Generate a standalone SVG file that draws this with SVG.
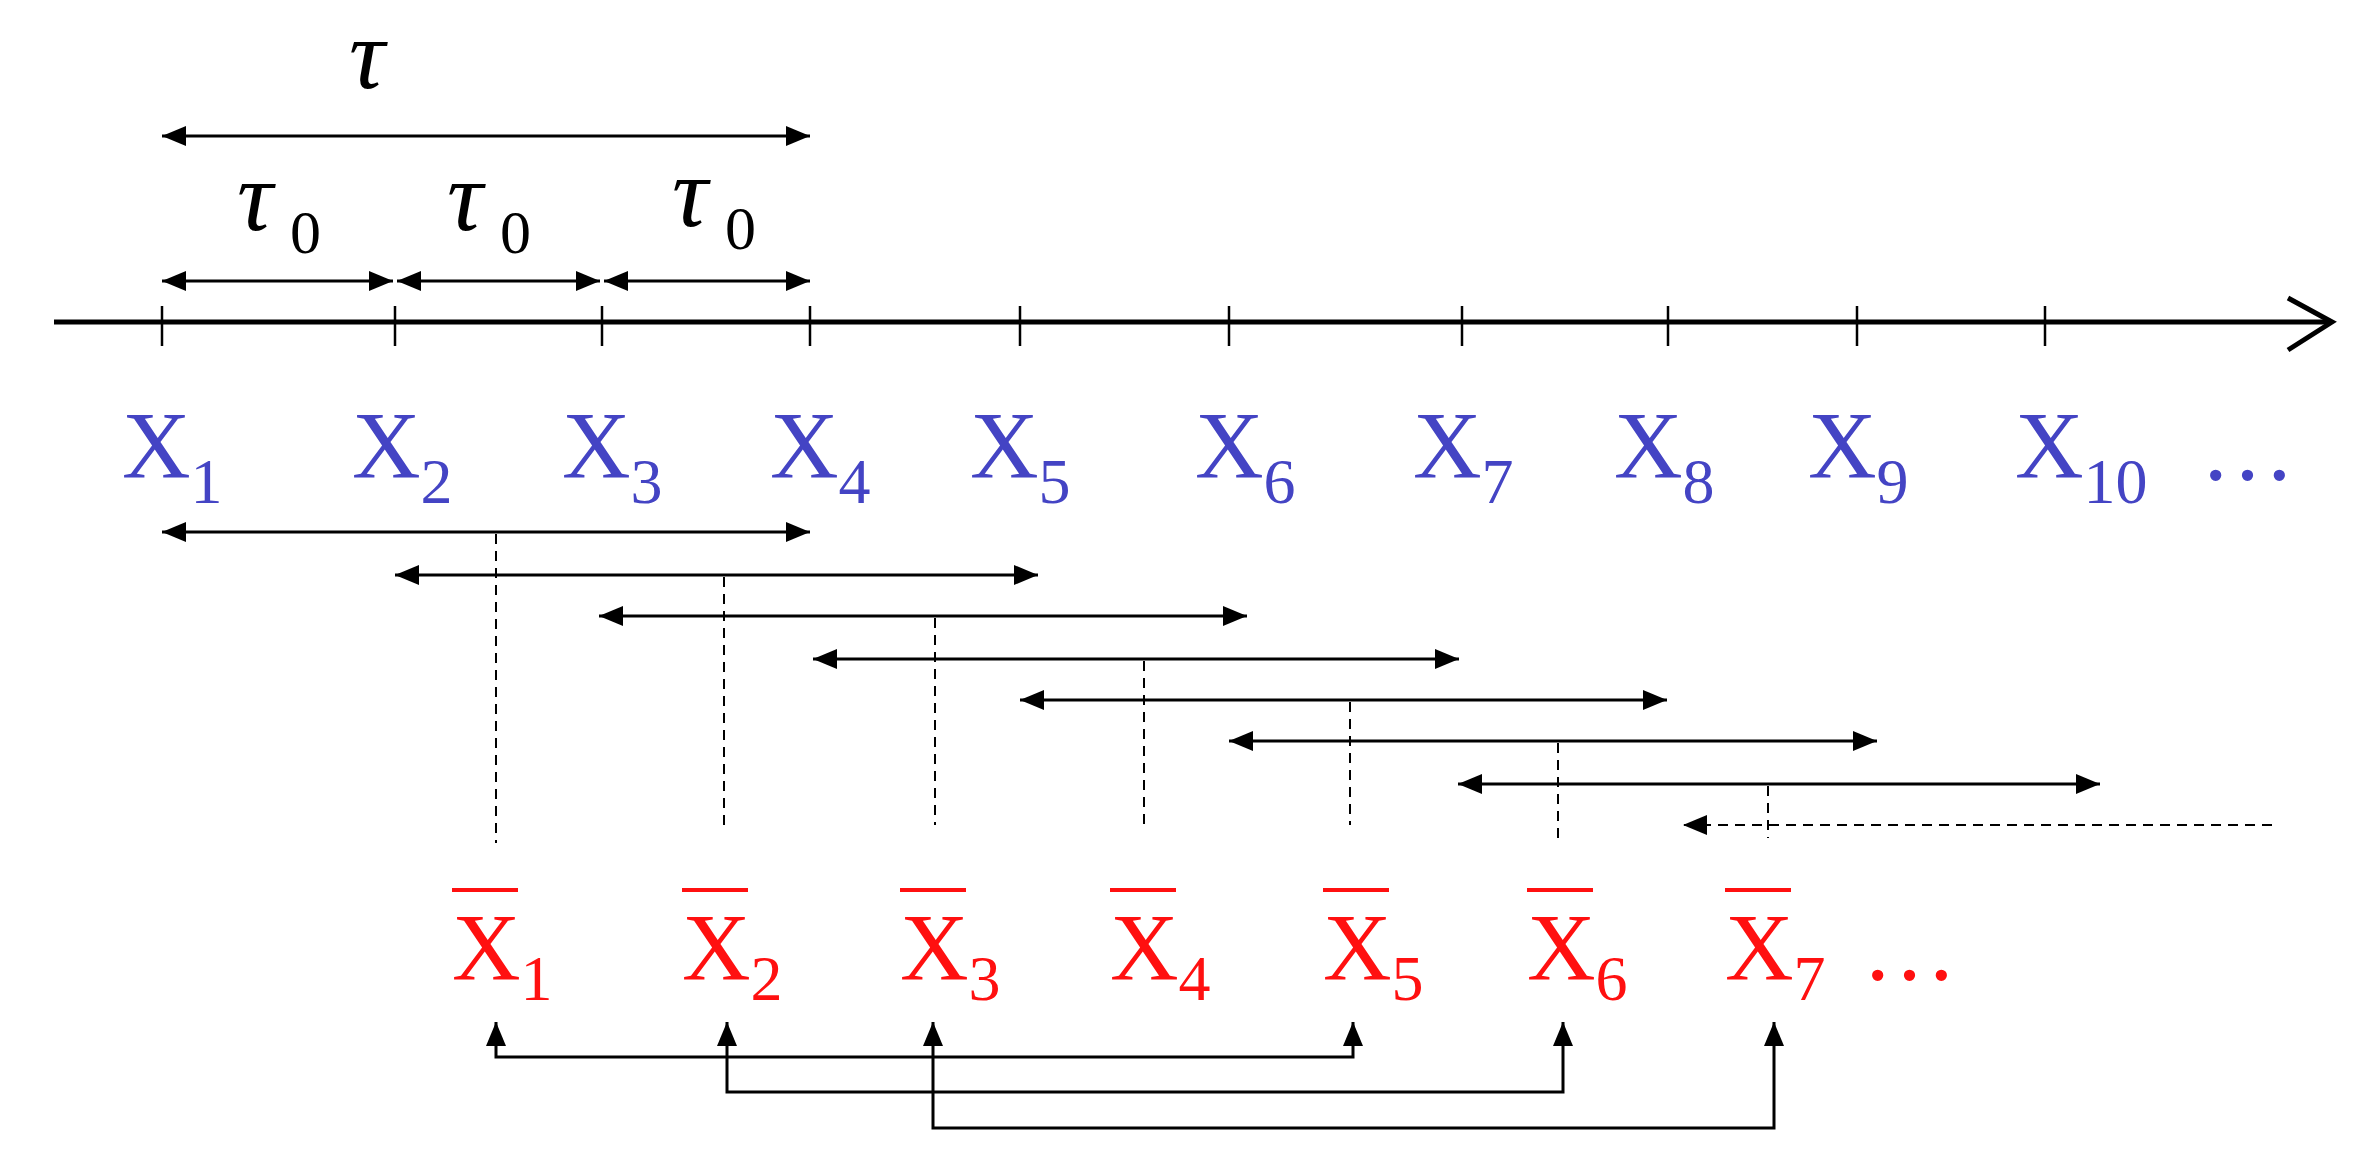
<svg xmlns="http://www.w3.org/2000/svg" width="2379" height="1174" viewBox="0 0 2379 1174">
<style>
.ln{stroke:#000;stroke-width:3;fill:none}
.dl{stroke:#000;stroke-width:2;stroke-dasharray:10 7;fill:none}
.tk{stroke:#000;stroke-width:2.5}
text{font-family:'Liberation Serif','Times New Roman',Times,serif}
.b{fill:#4444c4}
.r{fill:#ff1010}
.t{fill:#000}
</style>
<defs>
<marker id="ae" viewBox="0 0 24 20" refX="24" refY="10" markerWidth="24" markerHeight="20" markerUnits="userSpaceOnUse" orient="auto-start-reverse"><path d="M0,0L24,10L0,20z" fill="#000"/></marker>
</defs>
<rect width="2379" height="1174" fill="#fff"/>
<g id="axis">
<line x1="54" y1="322" x2="2330" y2="322" stroke="#000" stroke-width="5"/>
<polyline points="2288,298 2332,322 2288,350" fill="none" stroke="#000" stroke-width="5"/>
<g class="tk">
<line x1="162" y1="306" x2="162" y2="346"/><line x1="395" y1="306" x2="395" y2="346"/><line x1="602" y1="306" x2="602" y2="346"/><line x1="810" y1="306" x2="810" y2="346"/><line x1="1020" y1="306" x2="1020" y2="346"/><line x1="1229" y1="306" x2="1229" y2="346"/><line x1="1462" y1="306" x2="1462" y2="346"/><line x1="1668" y1="306" x2="1668" y2="346"/><line x1="1857" y1="306" x2="1857" y2="346"/><line x1="2045" y1="306" x2="2045" y2="346"/>
</g>
</g>
<g id="tau">
<text class="t" x="367" y="88" font-size="100" font-style="italic" text-anchor="middle">τ</text>
<text class="t" x="255" y="230" font-size="100" font-style="italic" text-anchor="middle">τ</text><text class="t" x="290" y="253" font-size="62">0</text>
<text class="t" x="465" y="230" font-size="100" font-style="italic" text-anchor="middle">τ</text><text class="t" x="500" y="253" font-size="62">0</text>
<text class="t" x="690" y="226" font-size="100" font-style="italic" text-anchor="middle">τ</text><text class="t" x="725" y="249" font-size="62">0</text>
</g>
<g id="blue-labels" font-size="95">
<text class="b" x="122" y="478">X<tspan font-size="64" dy="25">1</tspan></text>
<text class="b" x="352" y="478">X<tspan font-size="64" dy="25">2</tspan></text>
<text class="b" x="562" y="478">X<tspan font-size="64" dy="25">3</tspan></text>
<text class="b" x="770" y="478">X<tspan font-size="64" dy="25">4</tspan></text>
<text class="b" x="970" y="478">X<tspan font-size="64" dy="25">5</tspan></text>
<text class="b" x="1195" y="478">X<tspan font-size="64" dy="25">6</tspan></text>
<text class="b" x="1413" y="478">X<tspan font-size="64" dy="25">7</tspan></text>
<text class="b" x="1614" y="478">X<tspan font-size="64" dy="25">8</tspan></text>
<text class="b" x="1808" y="478">X<tspan font-size="64" dy="25">9</tspan></text>
<text class="b" x="2015" y="478">X<tspan font-size="64" dy="25">10</tspan></text>
<text class="b" x="2200" y="480">…</text>
</g>
<g id="red-labels" font-size="95">
<g id="xb1"><text class="r" x="452" y="980">X<tspan font-size="64" dy="20">1</tspan></text><line x1="452" y1="890" x2="518" y2="890" stroke="#ff1010" stroke-width="4"/></g>
<g id="xb2"><text class="r" x="682" y="980">X<tspan font-size="64" dy="20">2</tspan></text><line x1="682" y1="890" x2="748" y2="890" stroke="#ff1010" stroke-width="4"/></g>
<g id="xb3"><text class="r" x="900" y="980">X<tspan font-size="64" dy="20">3</tspan></text><line x1="900" y1="890" x2="966" y2="890" stroke="#ff1010" stroke-width="4"/></g>
<g id="xb4"><text class="r" x="1110" y="980">X<tspan font-size="64" dy="20">4</tspan></text><line x1="1110" y1="890" x2="1176" y2="890" stroke="#ff1010" stroke-width="4"/></g>
<g id="xb5"><text class="r" x="1323" y="980">X<tspan font-size="64" dy="20">5</tspan></text><line x1="1323" y1="890" x2="1389" y2="890" stroke="#ff1010" stroke-width="4"/></g>
<g id="xb6"><text class="r" x="1527" y="980">X<tspan font-size="64" dy="20">6</tspan></text><line x1="1527" y1="890" x2="1593" y2="890" stroke="#ff1010" stroke-width="4"/></g>
<g id="xb7"><text class="r" x="1725" y="980">X<tspan font-size="64" dy="20">7</tspan></text><line x1="1725" y1="890" x2="1791" y2="890" stroke="#ff1010" stroke-width="4"/></g>
<text class="r" x="1862" y="980">…</text>
</g>
<g id="connectors">
<line class="ln" x1="162" y1="136" x2="810" y2="136" marker-start="url(#ae)" marker-end="url(#ae)"/>
<line class="ln" x1="162" y1="281" x2="393" y2="281" marker-start="url(#ae)" marker-end="url(#ae)"/>
<line class="ln" x1="397" y1="281" x2="600" y2="281" marker-start="url(#ae)" marker-end="url(#ae)"/>
<line class="ln" x1="604" y1="281" x2="810" y2="281" marker-start="url(#ae)" marker-end="url(#ae)"/>
<line class="ln" x1="162" y1="532" x2="810" y2="532" marker-start="url(#ae)" marker-end="url(#ae)"/>
<line class="ln" x1="395" y1="575" x2="1038" y2="575" marker-start="url(#ae)" marker-end="url(#ae)"/>
<line class="ln" x1="599" y1="616" x2="1247" y2="616" marker-start="url(#ae)" marker-end="url(#ae)"/>
<line class="ln" x1="813" y1="659" x2="1459" y2="659" marker-start="url(#ae)" marker-end="url(#ae)"/>
<line class="ln" x1="1020" y1="700" x2="1667" y2="700" marker-start="url(#ae)" marker-end="url(#ae)"/>
<line class="ln" x1="1229" y1="741" x2="1877" y2="741" marker-start="url(#ae)" marker-end="url(#ae)"/>
<line class="ln" x1="1458" y1="784" x2="2100" y2="784" marker-start="url(#ae)" marker-end="url(#ae)"/>
<line class="dl" x1="2272" y1="825" x2="1683" y2="825" marker-end="url(#ae)"/>
<line class="dl" x1="496" y1="534" x2="496" y2="843"/>
<line class="dl" x1="724" y1="577" x2="724" y2="825"/>
<line class="dl" x1="935" y1="618" x2="935" y2="825"/>
<line class="dl" x1="1144" y1="661" x2="1144" y2="825"/>
<line class="dl" x1="1350" y1="702" x2="1350" y2="825"/>
<line class="dl" x1="1558" y1="743" x2="1558" y2="845"/>
<line class="dl" x1="1768" y1="786" x2="1768" y2="838"/>
<polyline class="ln" points="496,1022 496,1057 1353,1057 1353,1022" marker-start="url(#ae)" marker-end="url(#ae)"/>
<polyline class="ln" points="727,1022 727,1092 1563,1092 1563,1022" marker-start="url(#ae)" marker-end="url(#ae)"/>
<polyline class="ln" points="933,1022 933,1128 1774,1128 1774,1022" marker-start="url(#ae)" marker-end="url(#ae)"/>
</g>
</svg>
